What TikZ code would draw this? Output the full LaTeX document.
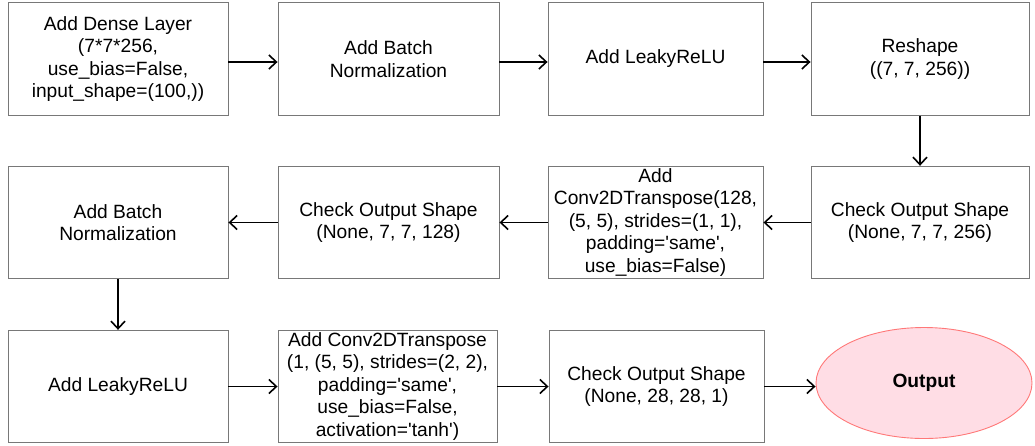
\documentclass[tikz,border=0pt]{standalone}
\usepackage{fontspec}
\setmainfont{Liberation Sans}
\usetikzlibrary{arrows.meta,shapes.geometric}
\definecolor{boxline}{RGB}{120,120,120}
\definecolor{outfill}{RGB}{255,221,229}
\definecolor{outline}{RGB}{255,120,120}
\tikzset{
  stepbox/.style={draw=boxline, line width=0.9pt, rectangle, align=center, inner sep=0pt,
    minimum height=112.5pt, font=\fontsize{19.2}{22.5}\selectfont},
  flow/.style={draw=black, line width=1.6pt, -{Straight Barb[length=7.5pt,width=14pt,line width=1.6pt]}},
  outnode/.style={draw=outline, fill=outfill, line width=0.9pt, ellipse, inner sep=0pt,
    minimum width=216pt, minimum height=111pt, font=\fontsize{19.2}{22.5}\selectfont\bfseries}
}
\newcommand{\sq}{\textquotesingle}
\begin{document}
\begin{tikzpicture}[x=1pt,y=-1pt]
\useasboundingbox (0,0) rectangle (1035,445);
% row 1
\node[stepbox, minimum width=220pt] (a1) at (118,59) {Add Dense Layer\\(7*7*256,\\use\_bias=False,\\input\_shape=(100,))};
\node[stepbox, minimum width=221pt] (a2) at (388.5,59) {Add Batch\\Normalization};
\node[stepbox, minimum width=215pt] (a3) at (655.5,59) {Add LeakyReLU};
\node[stepbox, minimum width=218pt] (a4) at (920,59) {Reshape\\((7, 7, 256))};
% row 2
\node[stepbox, minimum width=218pt] (b4) at (920,222.5) {Check Output Shape\\(None, 7, 7, 256)};
\node[stepbox, minimum width=215pt] (b3) at (655.5,222.5) {Add\\Conv2DTranspose(128,\\(5, 5), strides=(1, 1),\\padding=\sq same\sq,\\use\_bias=False)};
\node[stepbox, minimum width=221pt] (b2) at (388.5,222.5) {Check Output Shape\\(None, 7, 7, 128)};
\node[stepbox, minimum width=220pt] (b1) at (118,222.5) {Add Batch\\Normalization};
% row 3
\node[stepbox, minimum width=220pt] (c1) at (118,386.5) {Add LeakyReLU};
\node[stepbox, minimum width=219pt] (c2) at (387.5,386.5) {Add Conv2DTranspose\\(1, (5, 5), strides=(2, 2),\\padding=\sq same\sq,\\use\_bias=False,\\activation=\sq tanh\sq)};
\node[stepbox, minimum width=215pt] (c3) at (656.5,386.5) {Check Output Shape\\(None, 28, 28, 1)};
\node[outnode] (out) at (924,383) {Output};
% connectors
\draw[flow] ([yshift=-3pt]a1.east) -- ([yshift=-3pt]a2.west);
\draw[flow] ([yshift=-3pt]a2.east) -- ([yshift=-3pt]a3.west);
\draw[flow] ([yshift=-3pt]a3.east) -- ([yshift=-3pt]a4.west);
\draw[flow] (a4.south) -- (b4.north);
\draw[flow] (b4.west) -- (b3.east);
\draw[flow] (b3.west) -- (b2.east);
\draw[flow] (b2.west) -- (b1.east);
\draw[flow] (b1.south) -- (c1.north);
\draw[flow] (c1.east) -- (c2.west);
\draw[flow] (c2.east) -- (c3.west);
\draw[flow] (c3.east) -- (c3.east -| out.west);
\end{tikzpicture}
\end{document}
